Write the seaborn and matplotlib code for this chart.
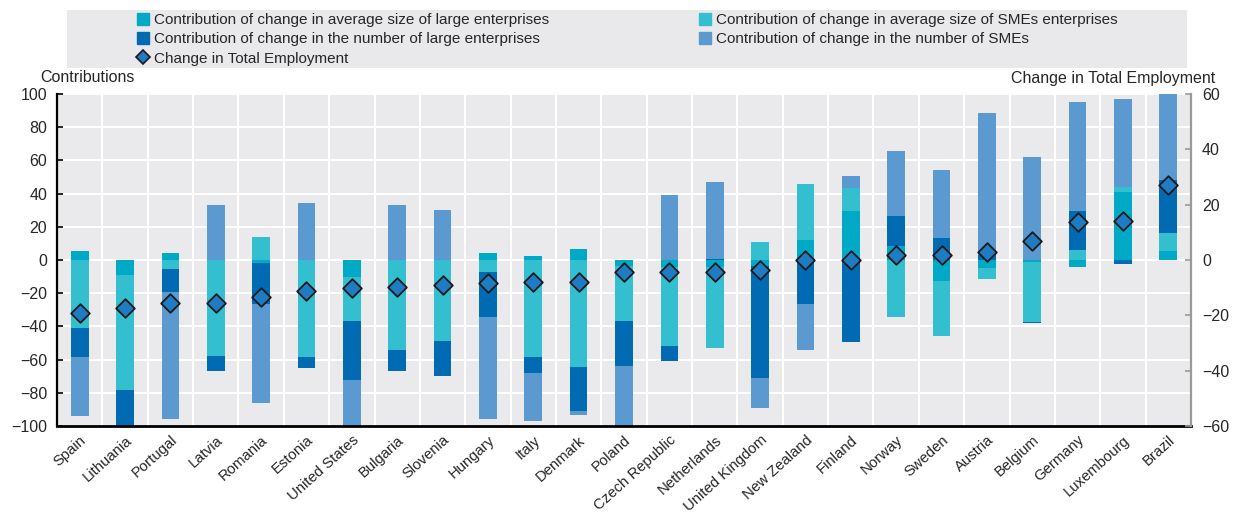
import numpy as np
import matplotlib
matplotlib.use("Agg")
import matplotlib.pyplot as plt
from matplotlib.patches import Patch, Rectangle
from matplotlib.lines import Line2D
from matplotlib.ticker import MultipleLocator, FixedLocator
import seaborn as sns

countries = ["Spain", "Lithuania", "Portugal", "Latvia", "Romania", "Estonia",
             "United States", "Bulgaria", "Slovenia", "Hungary", "Italy", "Denmark",
             "Poland", "Czech Republic", "Netherlands", "United Kingdom", "New Zealand",
             "Finland", "Norway", "Sweden", "Austria", "Belgium", "Germany",
             "Luxembourg", "Brazil"]

# contributions (left axis)
avg_size_large = [5.6, -9.2, 4.0, 0.0, -2.0, 0.0, -10.4, 0.0, 0.0, 4.2, 2.4, 6.4,
                  -3.6, -4.0, -4.0, -3.6, 12.0, 29.4, 8.4, -12.8, -4.6, -1.2, -4.4,
                  40.8, 5.2]
avg_size_sme = [-41.2, -69.0, -5.6, -58.0, 14.0, -58.2, -26.4, -54.2, -48.6, -7.0,
                -58.2, -64.4, -33.0, -48.0, -48.8, 10.8, 33.8, 14.0, -34.4, -33.2,
                -6.6, -36.0, 5.8, 3.2, 11.2]
num_large = [-17.0, -25.0, -13.6, -8.6, -24.6, -7.0, -35.4, -12.4, -21.0, -27.2,
             -9.8, -26.8, -27.0, -9.0, 0.6, -67.4, -26.6, -49.4, 18.4, 13.0, 2.8,
             -0.6, 24.0, -2.6, 32.0]
num_sme = [-36.0, 0.0, -76.4, 33.4, -59.4, 34.4, -30.0, 33.2, 30.2, -61.6, -29.2,
           -2.4, -40.0, 39.0, 46.4, -18.2, -27.4, 7.2, 38.8, 41.0, 85.8, 62.0, 65.4,
           53.0, 55.0]

# change in total employment (right axis)
total_change = [-19.3, -17.4, -15.4, -15.4, -13.2, -11.3, -10.1, -9.6, -9.2, -8.4,
                -8.0, -7.8, -4.3, -4.2, -4.2, -3.6, 0.0, 0.0, 1.8, 1.8, 3.0, 6.8,
                13.6, 14.0, 27.2]

labels = ["Contribution of change in average size of large enterprises",
          "Contribution of change in average size of SMEs enterprises",
          "Contribution of change in the number of large enterprises",
          "Contribution of change in the number of SMEs"]
colors = ["#00a9c5", "#33bfcf", "#006bb3", "#5b99d1"]

sns.set_style("darkgrid", {"axes.facecolor": "#eaeaec", "grid.color": "white"})
plt.rcParams["font.family"] = ["Liberation Sans", "DejaVu Sans"]

fig = plt.figure(figsize=(12.34, 5.16), dpi=100)
ax = fig.add_axes([57 / 1234, 90 / 516, 1134 / 1234, 332 / 516])

x = np.arange(len(countries))
series = [avg_size_large, avg_size_sme, num_large, num_sme]
pos_base = np.zeros(len(countries))
neg_base = np.zeros(len(countries))
for vals, col in zip(series, colors):
    v = np.array(vals)
    bottom = np.where(v >= 0, pos_base, neg_base)
    ax.bar(x, v, bottom=bottom, width=0.39, color=col, linewidth=0, zorder=2)
    pos_base += np.clip(v, 0, None)
    neg_base += np.clip(v, None, 0)

ax.set_xlim(-0.5, len(countries) - 0.5)
ax.set_ylim(-100, 100)
ax.yaxis.set_major_locator(MultipleLocator(20))
ax.set_xticks(x)
ax.set_xticklabels(countries, rotation=42, ha="right", rotation_mode="anchor", fontsize=10.7)
ax.xaxis.set_minor_locator(FixedLocator(np.arange(-0.5, len(countries), 1.0)))
ax.grid(False)
ax.grid(True, axis="y", which="major", color="white", linewidth=1.5)
ax.grid(True, axis="x", which="minor", color="white", linewidth=1.5)
ax.set_axisbelow(True)
ax.tick_params(axis="x", which="major", length=0, pad=5)
ax.tick_params(axis="x", which="minor", direction="in", length=4, width=1.2, color="black")
ax.tick_params(axis="y", direction="in", length=4, width=1.2, color="black",
               labelsize=11.5, pad=7, left=True)
for s in ["top", "right"]:
    ax.spines[s].set_visible(False)
ax.spines["left"].set_visible(True)
ax.spines["left"].set_color("black")
ax.spines["left"].set_linewidth(1.6)
ax.spines["bottom"].set_visible(True)
ax.spines["bottom"].set_color("black")
ax.spines["bottom"].set_linewidth(2.0)

ax2 = ax.twinx()
ax2.set_ylim(-60, 60)
ax2.yaxis.set_major_locator(MultipleLocator(20))
ax2.grid(False)
sns.scatterplot(x=x, y=total_change, ax=ax2, marker="D", s=90, color="#1f7bc2",
                edgecolor="#1a1a1a", linewidth=1.3, zorder=5, legend=False)
ax2.tick_params(axis="y", direction="in", length=4, width=1.2, color="#999999",
                labelsize=11.5, pad=8, right=True)
for s in ["top", "left", "bottom"]:
    ax2.spines[s].set_visible(False)
ax2.spines["right"].set_visible(True)
ax2.spines["right"].set_color("#999999")
ax2.spines["right"].set_linewidth(1.6)
ax2.set_xlim(-0.5, len(countries) - 0.5)

fig.text(40 / 1234, 1 - 78 / 516, "Contributions", ha="left", va="center", fontsize=11.5)
fig.text(1215 / 1234, 1 - 79 / 516, "Change in Total Employment", ha="right",
         va="center", fontsize=11.5)

# legend box
fig.patches.append(Rectangle((67 / 1234, 1 - 68 / 516), 1120 / 1234, 58 / 516,
                             transform=fig.transFigure, facecolor="#e9e9eb",
                             edgecolor="none", zorder=0))
h_large = [Patch(color=colors[0], label=labels[0]),
           Patch(color=colors[2], label=labels[2]),
           Line2D([], [], marker="D", linestyle="none", markersize=7,
                  markerfacecolor="#1f7bc2", markeredgecolor="#1a1a1a",
                  markeredgewidth=1.2, label="Change in Total Employment")]
h_sme = [Patch(color=colors[1], label=labels[1]),
         Patch(color=colors[3], label=labels[3])]
leg_kw = dict(frameon=False, fontsize=11, handlelength=0.8, handleheight=0.8,
              handletextpad=0.3, labelspacing=0.33, borderpad=0, borderaxespad=0,
              loc="upper left")
leg1 = fig.legend(handles=h_large, bbox_to_anchor=(137 / 1234, 1 - 13 / 516), **leg_kw)
leg2 = fig.legend(handles=h_sme, bbox_to_anchor=(699 / 1234, 1 - 13 / 516), **leg_kw)

fig.savefig("out.png", dpi=100)
